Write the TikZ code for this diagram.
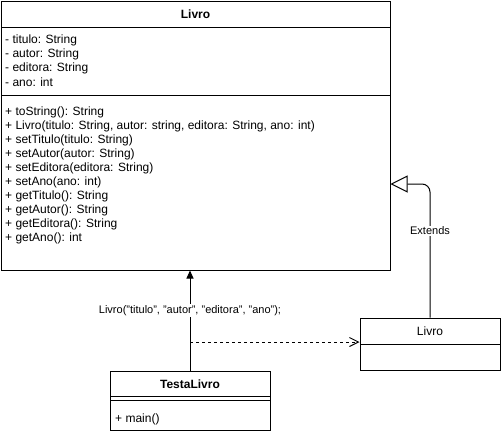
\documentclass[tikz,border=0pt]{standalone}
\usepackage{fontspec}
\setmainfont{Liberation Sans}
\usetikzlibrary{arrows.meta}
\begin{document}
\begin{tikzpicture}[x=1pt,y=-1pt,
  box/.style={draw,line width=1pt,inner sep=0pt,fill=white},
  mem/.style={anchor=west,inner sep=0pt,font=\fontsize{12}{14}\selectfont},
  ttl/.style={inner sep=0pt,font=\fontsize{12}{14}\selectfont\bfseries},
  lbl/.style={inner sep=1pt,fill=white,font=\fontsize{11}{13}\selectfont},
  conn/.style={line width=1pt}]
\useasboundingbox (0,0) rectangle (501,434);
% Livro main class
\node[box,minimum width=389pt,minimum height=269pt] (livro) at (195.5,135.5) {};
\draw[line width=1pt] (1,27) -- (390,27);
\draw[line width=1pt] (1,95) -- (390,95);
\node[ttl] (livroT) at (195.5,14) {Livro};
\node[mem] (a1) at (5,40) {- titulo: String};
\node[mem] (a2) at (5,54) {- autor: String};
\node[mem] (a3) at (5,68) {- editora: String};
\node[mem] (a4) at (5,82) {- ano: int};
\node[mem] (m1) at (5,112) {+ toString(): String};
\node[mem] (m2) at (5,126) {+ Livro(titulo: String, autor: string, editora: String, ano: int)};
\node[mem] (m3) at (5,140) {+ setTitulo(titulo: String)};
\node[mem] (m4) at (5,154) {+ setAutor(autor: String)};
\node[mem] (m5) at (5,168) {+ setEditora(editora: String)};
\node[mem] (m6) at (5,182) {+ setAno(ano: int)};
\node[mem] (m7) at (5,196) {+ getTitulo(): String};
\node[mem] (m8) at (5,210) {+ getAutor(): String};
\node[mem] (m9) at (5,224) {+ getEditora(): String};
\node[mem] (m10) at (5,238) {+ getAno(): int};
% Livro small class
\node[box,minimum width=140pt,minimum height=52pt] (livro2) at (430,344) {};
\draw[line width=1pt] (360,344) -- (500,344);
\node[inner sep=0pt,font=\fontsize{12}{14}\selectfont] (livro2T) at (430,331) {Livro};
% TestaLivro
\node[box,minimum width=160pt,minimum height=59pt] (testa) at (190,400.5) {};
\draw[line width=1pt] (110,396) -- (270,396);
\draw[line width=1pt] (110,400) -- (270,400);
\node[ttl] (testaT) at (190,384) {TestaLivro};
\node[mem] (tm1) at (115,419) {+ main()};
% connectors
\draw[conn,-{Triangle[length=8pt,width=7pt]}] (testa.north) -- (testa.north |- livro.south)
  node[lbl,pos=0.6] (call) {Livro("titulo", "autor", "editora", "ano");};
\coordinate (dstart) at (190,342);
\draw[conn,dashed,dash pattern=on 3pt off 3pt,-{Straight Barb[length=9pt,width=9pt]}] (dstart) -- (dstart -| livro2.west);
\coordinate (bend) at (430,184);
\draw[conn,rounded corners=8pt,-{Triangle[open,length=17pt,width=17pt,fill=white]}] (livro2.north) -- (bend) -- (bend -| livro.east);
\node[lbl] (ext) at (430,231) {Extends};
\end{tikzpicture}
\end{document}
